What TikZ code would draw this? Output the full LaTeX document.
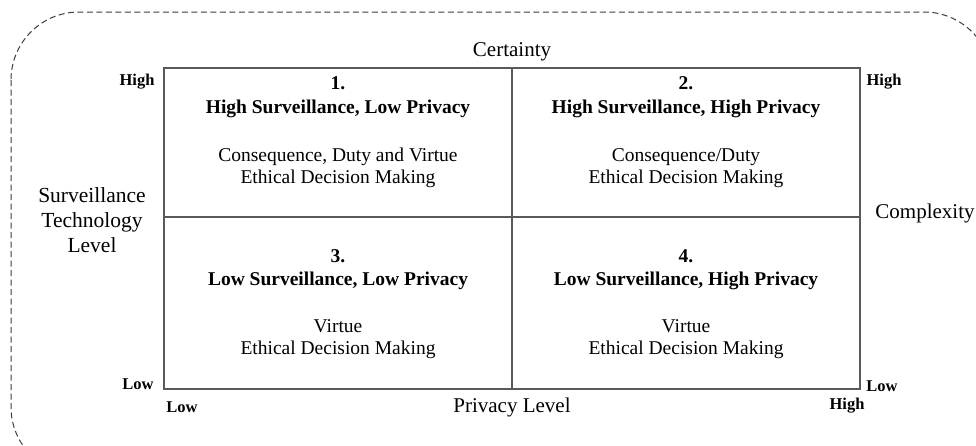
\documentclass[tikz,border=0pt]{standalone}
\usepackage{fontspec}
\setmainfont{Liberation Serif}
\usepackage{tikz}
\usetikzlibrary{calc}

\tikzset{
  quadtext/.style={align=center,inner sep=0.75pt,font=\fontsize{19.5}{22.5}\selectfont},
  axislabel/.style={inner sep=0.75pt,font=\fontsize{21}{25}\selectfont},
  endlabel/.style={inner sep=0.75pt,font=\fontsize{16.5}{18}\selectfont\bfseries}
}

\begin{document}
\begin{tikzpicture}[x=1pt,y=1pt,yscale=-1,xscale=1]
\useasboundingbox (0,0) rectangle (976,445);
%Dashed frame
\begin{scope}
\clip (0,0) rectangle (976,445);
\draw [color={rgb, 255:red, 60; green, 60; blue, 60 },line width=1,dash pattern=on 6pt off 3.5pt,rounded corners=68] (11,12) rectangle (992,475);
\end{scope}
%Grid
\coordinate (tl) at (164,68);
\coordinate (br) at (860,389);
\coordinate (tm) at (512,68);
\coordinate (bm) at (512,389);
\coordinate (ml) at (164,217);
\coordinate (mr) at (860,217);
\draw [color={rgb, 255:red, 90; green, 90; blue, 90 },line width=1.4] (tl) rectangle (br);
\draw [color={rgb, 255:red, 90; green, 90; blue, 90 },line width=1.4] (tm) -- (bm);
\draw [color={rgb, 255:red, 90; green, 90; blue, 90 },line width=1.4] (ml) -- (mr);
% Axis labels
\node [axislabel] (certainty) at (512,52) {Certainty};
\node [axislabel] (privacy) at (512,407) {Privacy Level};
\node [axislabel] (complexity) at (925,213) {Complexity};
\node [axislabel,align=center,font=\fontsize{21.5}{25}\selectfont] (survtech) at (92,220) {Surveillance\\Technology\\Level};
% End labels
\node [endlabel] (highleft) at (137,82) {High};
\node [endlabel] (highright) at (884,82) {High};
\node [endlabel] (lowleft) at (138,384) {Low};
\node [endlabel] (lowright) at (882,386) {Low};
\node [endlabel] (lowbottom) at (182,407) {Low};
\node [endlabel] (highbottom) at (847,406) {High};
% Quadrant 1
\node [quadtext] (q1num) at (338,83) {\textbf{1.}};
\node [quadtext] (q1title) at (338,109) {\textbf{High Surveillance, Low Privacy}};
\node [quadtext] (q1body) at (338,168) {Consequence, Duty and Virtue\\Ethical Decision Making};
% Quadrant 2
\node [quadtext] (q2num) at (686,83) {\textbf{2.}};
\node [quadtext] (q2title) at (686,109) {\textbf{High Surveillance, High Privacy}};
\node [quadtext] (q2body) at (686,168) {Consequence/Duty\\Ethical Decision Making};
% Quadrant 3
\node [quadtext] (q3num) at (338,256) {\textbf{3.}};
\node [quadtext] (q3title) at (338,281) {\textbf{Low Surveillance, Low Privacy}};
\node [quadtext] (q3body) at (338,339) {Virtue\\Ethical Decision Making};
% Quadrant 4
\node [quadtext] (q4num) at (686,256) {\textbf{4.}};
\node [quadtext] (q4title) at (686,281) {\textbf{Low Surveillance, High Privacy}};
\node [quadtext] (q4body) at (686,339) {Virtue\\Ethical Decision Making};
\end{tikzpicture}
\end{document}
